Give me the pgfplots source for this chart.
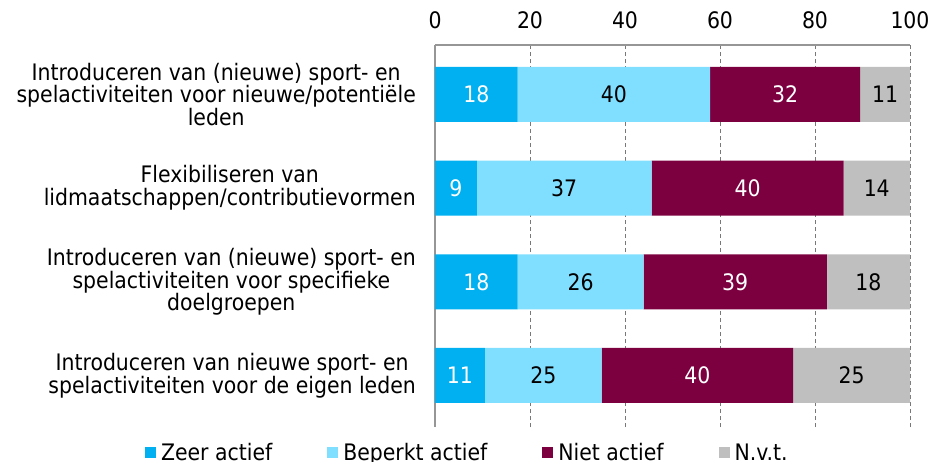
\documentclass[border=0pt]{standalone}
\usepackage{pgfplots}
\usepackage{pgfplotstable}
\pgfplotsset{compat=1.18}
\usepackage{fontspec}
\setmainfont{DejaVu Sans Condensed}
\definecolor{czeer}{RGB}{0,176,240}
\definecolor{cbep}{RGB}{128,223,255}
\definecolor{cniet}{RGB}{124,0,64}
\definecolor{cnvt}{RGB}{191,191,191}
\definecolor{caxis}{RGB}{150,150,150}
\definecolor{cgrid}{RGB}{120,120,120}
\pgfplotstableread{
y v lab
4 17.4 18
3 8.8 9
2 17.4 18
1 10.5 11
}\zeer
\pgfplotstableread{
y v lab
4 40.5 40
3 36.8 37
2 26.5 26
1 24.6 25
}\bep
\pgfplotstableread{
y v lab
4 31.6 32
3 40.4 40
2 38.6 39
1 40.3 40
}\niet
\pgfplotstableread{
y v lab
4 10.5 11
3 14.0 14
2 17.5 18
1 24.6 25
}\nvt
\begin{document}
\begin{tikzpicture}
\path[use as bounding box] (0bp,0bp) rectangle (933bp,-462bp);
\begin{axis}[
  at={(435bp,-427bp)}, anchor=south west,
  scale only axis, width=475bp, height=382bp,
  xbar stacked, bar width=55bp,
  xmin=0, xmax=100, ymin=0.45, ymax=4.528,
  axis x line*=top, axis y line*=left,
  axis line style={-, draw=caxis, line width=1.2bp},
  xtick={0,20,40,60,80,100}, ytick={1,2,3,4},
  yticklabels={
    {Introduceren van nieuwe sport- en\\spelactiviteiten voor de eigen leden},
    {Introduceren van (nieuwe) sport- en\\spelactiviteiten voor specifieke\\doelgroepen},
    {Flexibiliseren van\\lidmaatschappen/contributievormen},
    {Introduceren van (nieuwe) sport- en\\spelactiviteiten voor nieuwe/potentiële\\leden}},
  major tick length=0pt,
  xmajorgrids, grid style={draw=cgrid, dash pattern=on 4bp off 3bp, line width=0.9bp},
  font=\fontsize{22.8}{23}\selectfont,
  /pgf/number format/assume math mode=true,
  xticklabel style={inner sep=0pt, yshift=16bp},
  yticklabel style={align=center, inner sep=0pt, xshift=-19bp},
  nodes near coords, point meta=explicit symbolic,
  legend image code/.code={\fill[#1] (0bp,-5.5bp) rectangle (11bp,5.5bp);},
  legend columns=4, legend cell align=left,
  legend style={draw=none, fill=none, at={(0.066,-0.068)}, anchor=center,
    nodes={inner sep=0pt},
    /tikz/every odd column/.append style={column sep=5bp},
    /tikz/every even column/.append style={column sep=55bp}},
]
\addplot[fill=czeer, draw=none, every node near coord/.style={anchor=center, text=white}] table[x=v,y=y,meta=lab]{\zeer};
\addplot[fill=cbep, draw=none, every node near coord/.style={anchor=center, text=black}] table[x=v,y=y,meta=lab]{\bep};
\addplot[fill=cniet, draw=none, every node near coord/.style={anchor=center, text=white}] table[x=v,y=y,meta=lab]{\niet};
\addplot[fill=cnvt, draw=none, every node near coord/.style={anchor=center, text=black}] table[x=v,y=y,meta=lab]{\nvt};
\legend{Zeer actief, Beperkt actief, Niet actief, N.v.t.}
\end{axis}
\end{tikzpicture}
\end{document}
